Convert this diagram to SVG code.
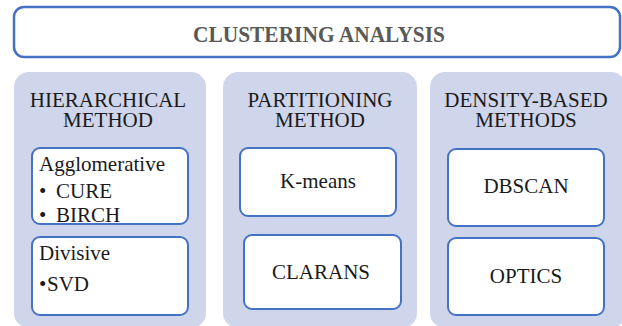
<svg xmlns="http://www.w3.org/2000/svg" width="622" height="326" viewBox="0 0 622 326">
<style>
.panel{fill:#cfd5ea;stroke:none}
.box{fill:#ffffff;stroke:#4472c4;stroke-width:2}
text{fill:#1a1a1a}
.c{text-anchor:middle}
</style>
<rect width="622" height="326" fill="#ffffff"/>
<g id="clustering-analysis">
<rect x="14" y="7" width="606" height="50" rx="10" fill="#ffffff" stroke="#4472c4" stroke-width="2.5"/>
<text x="319" y="42" font-family="Liberation Serif, Times New Roman, serif" font-size="24" font-weight="bold" style="fill:#595959" text-anchor="middle" textLength="252" lengthAdjust="spacingAndGlyphs">CLUSTERING ANALYSIS</text>
</g>
<g font-family="Liberation Serif, Times New Roman, serif" font-size="21">
<g id="hierarchical">
<rect class="panel" x="14" y="72" width="192" height="256" rx="15"/>
<text class="c" x="108" y="107">HIERARCHICAL</text>
<text class="c" x="108" y="127">METHOD</text>
</g>
<g id="agglomerative">
<rect class="box" x="32" y="148" width="156" height="76" rx="8"/>
<text x="39" y="171">Agglomerative</text>
<text x="39" y="198">•<tspan x="56">CURE</tspan></text>
<text x="39" y="222">•<tspan x="56">BIRCH</tspan></text>
</g>
<g id="divisive">
<rect class="box" x="32" y="237" width="156" height="78" rx="8"/>
<text x="39" y="260">Divisive</text>
<text x="39" y="291">•<tspan x="47">SVD</tspan></text>
</g>
<g id="partitioning">
<rect class="panel" x="223" y="72" width="194" height="256" rx="15"/>
<text class="c" x="320" y="107">PARTITIONING</text>
<text class="c" x="320" y="127">METHOD</text>
</g>
<g id="kmeans">
<rect class="box" x="240" y="148" width="156" height="68" rx="8"/>
<text class="c" x="318" y="188">K-means</text>
</g>
<g id="clarans">
<rect class="box" x="244" y="235" width="157" height="74" rx="8"/>
<text class="c" x="321" y="279">CLARANS</text>
</g>
<g id="density">
<rect class="panel" x="430" y="72" width="196" height="256" rx="15"/>
<text class="c" x="526" y="107">DENSITY-BASED</text>
<text class="c" x="526" y="127">METHODS</text>
</g>
<g id="dbscan">
<rect class="box" x="448" y="149" width="156" height="77" rx="8"/>
<text class="c" x="526" y="193">DBSCAN</text>
</g>
<g id="optics">
<rect class="box" x="448" y="238" width="156" height="77" rx="8"/>
<text class="c" x="526" y="283">OPTICS</text>
</g>
</g>
<g id="connectors"></g>
</svg>
